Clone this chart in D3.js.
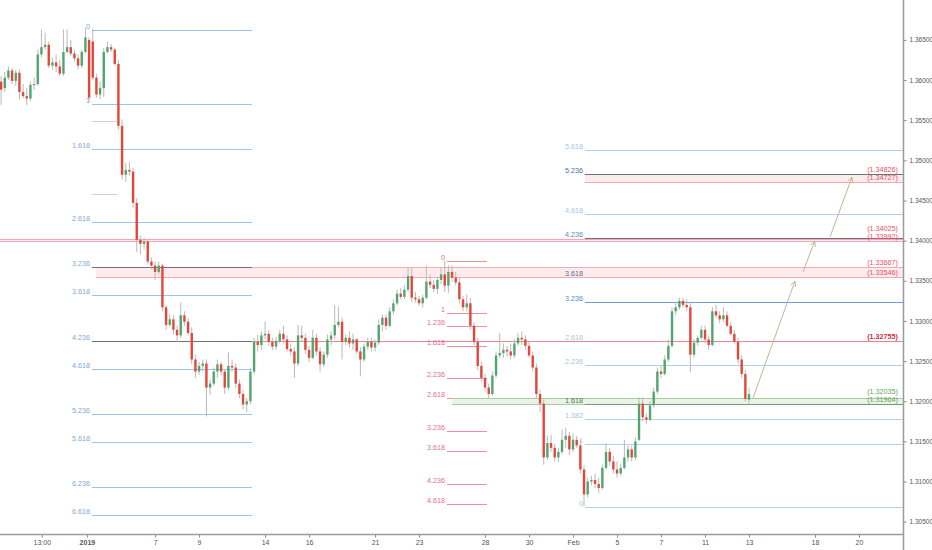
<!DOCTYPE html>
<html lang="en">
<head>
<meta charset="UTF-8" />
<title>GBP 4h fib extensions</title>
<style>
  html, body { margin: 0; padding: 0; background: #fff; }
  svg { display: block; font-family: "Liberation Sans", Arial, sans-serif; }
</style>
</head>
<body>
<svg id="chart" width="932" height="550"></svg>
<script src="https://cdn.jsdelivr.net/npm/d3@7/dist/d3.min.js"></script>
<script>
// 4h candles, day 0 = Mon 7 Jan 2019, weekends removed
const firstBarDay = -7.0;
const barsPerDay = 6;

// [open, high, low, close]
const candles = [
  [1.3598,1.3605,1.3569,1.3588],[1.3590,1.3610,1.3585,1.3603],[1.3603,1.3617,1.3600,1.3612],[1.3612,1.3615,1.3595,1.3599],
  [1.3599,1.3613,1.3593,1.3609],[1.3609,1.3613,1.3576,1.3585],[1.3585,1.3595,1.3577,1.3580],[1.3580,1.3590,1.3569,1.3577],
  [1.3577,1.3598,1.3574,1.3594],[1.3594,1.3603,1.3588,1.3595],[1.3595,1.3638,1.3593,1.3632],[1.3632,1.3663,1.3628,1.3641],
  [1.3641,1.3659,1.3638,1.3644],[1.3644,1.3648,1.3615,1.3618],[1.3618,1.3628,1.3613,1.3622],[1.3622,1.3632,1.3610,1.3617],
  [1.3617,1.3625,1.3605,1.3608],[1.3608,1.3663,1.3605,1.3635],[1.3635,1.3663,1.3633,1.3641],[1.3641,1.3650,1.3630,1.3633],
  [1.3633,1.3638,1.3623,1.3627],[1.3627,1.3632,1.3613,1.3618],[1.3618,1.3638,1.3615,1.3635],[1.3635,1.3665,1.3633,1.3653],
  [1.3650,1.3653,1.3573,1.3578],[1.3648,1.3664,1.3600,1.3603],[1.3603,1.3608,1.3578,1.3582],[1.3582,1.3598,1.3576,1.3590],
  [1.3590,1.3640,1.3579,1.3635],[1.3635,1.3648,1.3633,1.3641],[1.3641,1.3645,1.3635,1.3638],[1.3638,1.3640,1.3618,1.3620],
  [1.3620,1.3625,1.3538,1.3543],[1.3543,1.3551,1.3476,1.3482],[1.3482,1.3497,1.3473,1.3488],[1.3488,1.3498,1.3481,1.3486],
  [1.3486,1.3491,1.3441,1.3447],[1.3447,1.3453,1.3386,1.3401],[1.3401,1.3406,1.3383,1.3396],[1.3396,1.3404,1.3389,1.3399],
  [1.3399,1.3401,1.3370,1.3374],[1.3374,1.3379,1.3364,1.3369],[1.3369,1.3374,1.3351,1.3361],[1.3361,1.3374,1.3358,1.3369],
  [1.3369,1.3371,1.3312,1.3317],[1.3317,1.3320,1.3289,1.3295],[1.3295,1.3308,1.3292,1.3302],[1.3302,1.3307,1.3283,1.3289],
  [1.3289,1.3294,1.3274,1.3282],[1.3282,1.3323,1.3279,1.3307],[1.3307,1.3312,1.3294,1.3299],[1.3299,1.3304,1.3282,1.3285],
  [1.3285,1.3292,1.3246,1.3252],[1.3252,1.3258,1.3229,1.3237],[1.3237,1.3249,1.3233,1.3244],[1.3244,1.3252,1.3237,1.3247],
  [1.3247,1.3252,1.3181,1.3217],[1.3217,1.3227,1.3208,1.3222],[1.3222,1.3242,1.3219,1.3237],[1.3237,1.3252,1.3229,1.3246],
  [1.3246,1.3249,1.3232,1.3237],[1.3237,1.3239,1.3209,1.3217],[1.3217,1.3261,1.3214,1.3244],[1.3244,1.3252,1.3237,1.3242],
  [1.3242,1.3247,1.3217,1.3222],[1.3222,1.3227,1.3204,1.3209],[1.3209,1.3214,1.3190,1.3196],[1.3196,1.3204,1.3186,1.3200],
  [1.3200,1.3242,1.3196,1.3237],[1.3237,1.3279,1.3234,1.3274],[1.3274,1.3283,1.3262,1.3270],[1.3270,1.3287,1.3264,1.3282],
  [1.3282,1.3299,1.3277,1.3284],[1.3284,1.3289,1.3269,1.3274],[1.3274,1.3279,1.3264,1.3268],[1.3268,1.3280,1.3264,1.3275],
  [1.3275,1.3289,1.3272,1.3284],[1.3284,1.3294,1.3272,1.3277],[1.3277,1.3282,1.3262,1.3265],[1.3265,1.3272,1.3257,1.3262],
  [1.3262,1.3267,1.3229,1.3247],[1.3247,1.3295,1.3244,1.3282],[1.3282,1.3294,1.3274,1.3279],[1.3279,1.3284,1.3259,1.3264],
  [1.3264,1.3269,1.3249,1.3254],[1.3254,1.3289,1.3252,1.3279],[1.3279,1.3284,1.3257,1.3262],[1.3262,1.3267,1.3237,1.3246],
  [1.3246,1.3262,1.3243,1.3258],[1.3258,1.3283,1.3254,1.3277],[1.3277,1.3287,1.3270,1.3282],[1.3282,1.3320,1.3277,1.3295],
  [1.3295,1.3318,1.3292,1.3299],[1.3299,1.3304,1.3252,1.3274],[1.3274,1.3283,1.3270,1.3279],[1.3279,1.3287,1.3267,1.3272],
  [1.3272,1.3284,1.3264,1.3277],[1.3277,1.3279,1.3259,1.3262],[1.3262,1.3267,1.3231,1.3252],[1.3252,1.3272,1.3249,1.3268],
  [1.3268,1.3279,1.3264,1.3274],[1.3274,1.3279,1.3262,1.3267],[1.3267,1.3277,1.3262,1.3273],[1.3273,1.3302,1.3270,1.3295],
  [1.3295,1.3308,1.3287,1.3304],[1.3304,1.3308,1.3289,1.3294],[1.3294,1.3317,1.3292,1.3312],[1.3312,1.3327,1.3308,1.3322],
  [1.3322,1.3339,1.3319,1.3334],[1.3334,1.3341,1.3327,1.3330],[1.3330,1.3345,1.3327,1.3339],[1.3339,1.3366,1.3336,1.3356],
  [1.3356,1.3366,1.3324,1.3329],[1.3329,1.3336,1.3323,1.3327],[1.3327,1.3331,1.3319,1.3322],[1.3322,1.3333,1.3317,1.3329],
  [1.3329,1.3369,1.3327,1.3349],[1.3349,1.3358,1.3341,1.3345],[1.3345,1.3351,1.3336,1.3340],[1.3340,1.3355,1.3334,1.3351],
  [1.3351,1.3366,1.3346,1.3358],[1.3358,1.3375,1.3336,1.3344],[1.3344,1.3369,1.3335,1.3361],[1.3361,1.3369,1.3349,1.3354],
  [1.3354,1.3361,1.3344,1.3348],[1.3348,1.3354,1.3322,1.3327],[1.3327,1.3331,1.3312,1.3317],[1.3317,1.3333,1.3312,1.3322],
  [1.3322,1.3329,1.3289,1.3294],[1.3294,1.3299,1.3270,1.3274],[1.3274,1.3279,1.3239,1.3244],[1.3244,1.3249,1.3224,1.3229],
  [1.3229,1.3234,1.3212,1.3217],[1.3217,1.3222,1.3204,1.3209],[1.3209,1.3237,1.3207,1.3232],[1.3232,1.3262,1.3229,1.3257],
  [1.3257,1.3285,1.3254,1.3260],[1.3260,1.3272,1.3254,1.3264],[1.3264,1.3269,1.3255,1.3262],[1.3262,1.3272,1.3252,1.3257],
  [1.3257,1.3277,1.3254,1.3272],[1.3272,1.3285,1.3269,1.3279],[1.3279,1.3287,1.3270,1.3277],[1.3277,1.3282,1.3264,1.3269],
  [1.3269,1.3274,1.3254,1.3257],[1.3257,1.3262,1.3237,1.3242],[1.3242,1.3247,1.3204,1.3209],[1.3209,1.3214,1.3187,1.3197],
  [1.3197,1.3202,1.3121,1.3130],[1.3130,1.3157,1.3127,1.3148],[1.3148,1.3158,1.3137,1.3142],[1.3142,1.3147,1.3125,1.3130],
  [1.3130,1.3142,1.3124,1.3137],[1.3137,1.3165,1.3134,1.3152],[1.3152,1.3167,1.3142,1.3157],[1.3157,1.3162,1.3133,1.3140],
  [1.3140,1.3160,1.3137,1.3152],[1.3152,1.3157,1.3142,1.3145],[1.3145,1.3152,1.3110,1.3115],[1.3115,1.3120,1.3069,1.3084],
  [1.3084,1.3105,1.3080,1.3100],[1.3100,1.3107,1.3095,1.3102],[1.3102,1.3110,1.3092,1.3097],[1.3097,1.3105,1.3086,1.3092],
  [1.3092,1.3121,1.3090,1.3117],[1.3117,1.3148,1.3115,1.3137],[1.3137,1.3142,1.3120,1.3125],[1.3125,1.3132,1.3110,1.3115],
  [1.3115,1.3125,1.3105,1.3110],[1.3110,1.3122,1.3107,1.3117],[1.3117,1.3152,1.3115,1.3130],[1.3130,1.3145,1.3125,1.3140],
  [1.3140,1.3145,1.3125,1.3130],[1.3130,1.3155,1.3127,1.3150],[1.3152,1.3205,1.3150,1.3197],[1.3197,1.3205,1.3175,1.3180],
  [1.3180,1.3185,1.3172,1.3177],[1.3177,1.3200,1.3175,1.3195],[1.3195,1.3217,1.3192,1.3212],[1.3212,1.3242,1.3209,1.3237],
  [1.3237,1.3244,1.3229,1.3234],[1.3234,1.3257,1.3232,1.3252],[1.3252,1.3277,1.3249,1.3269],[1.3269,1.3317,1.3267,1.3312],
  [1.3312,1.3322,1.3307,1.3317],[1.3317,1.3329,1.3314,1.3325],[1.3325,1.3329,1.3317,1.3320],[1.3320,1.3327,1.3312,1.3317],
  [1.3317,1.3324,1.3236,1.3258],[1.3258,1.3277,1.3254,1.3273],[1.3273,1.3282,1.3269,1.3279],[1.3279,1.3294,1.3277,1.3289],
  [1.3289,1.3294,1.3272,1.3277],[1.3277,1.3282,1.3264,1.3270],[1.3270,1.3317,1.3268,1.3312],[1.3312,1.3320,1.3304,1.3307],
  [1.3307,1.3312,1.3297,1.3302],[1.3302,1.3317,1.3299,1.3307],[1.3307,1.3312,1.3292,1.3294],[1.3294,1.3299,1.3282,1.3284],
  [1.3284,1.3289,1.3272,1.3274],[1.3274,1.3279,1.3247,1.3252],[1.3252,1.3257,1.3229,1.3234],[1.3234,1.3239,1.3200,1.3203],
  [1.3202,1.3217,1.3197,1.3209]
];

const priceTicks = [1.305, 1.31, 1.315, 1.32, 1.325, 1.33, 1.335, 1.34, 1.345, 1.35, 1.355, 1.36, 1.365];
const dayTicks = [-5.15, -3.1, 0, 2, 5, 7, 10, 12, 15, 17, 19, 21, 23, 25, 27, 30, 32];
const dayTickLabels = ["13:00", "2019", "7", "9", "14", "16", "21", "23", "28", "30", "Feb", "5", "7", "11", "13", "18", "20"];

// fib extension tools: price at level 0 and level 1, ratios, day span
const fibAAnchors = [1.36618, 1.35706];
const fibARatios = [0, 1, 1.618, 2.618, 3.236, 3.618, 4.236, 4.618, 5.236, 5.618, 6.236, 6.618];
const fibASpan = [-2.87, 4.4];
const fibAShortRatios = [1.236, 2.236];
const fibAShortSpan = [-2.87, -1.7];

const fibBAnchors = [1.3375, 1.33095];
const fibBRatios = [0, 1, 1.236, 1.618, 2.236, 2.618, 3.236, 3.618, 4.236, 4.618];
const fibBSpan = [13.27, 15.09];

const fibCAnchors = [1.30679, 1.31471];
const fibCRatios = [0, 1, 1.382, 1.618, 2.236, 2.618, 3.236, 3.618, 4.236, 4.618, 5.236, 5.618];
const fibCSpan = [19.54, 34];

// price zones [top, bottom] and the day they start
const pinkZones = [[1.34826, 1.34727], [1.34025, 1.33992], [1.33667, 1.33546]];
const pinkZoneStart = [19.54, -7.05, -2.69];
const greenZone = [1.32035, 1.31964];
const greenZoneStart = 13.5;
const keyLevel = 1.32755;
const keyLevelStart = -2.5;

// projected path
const arrowSegments = [
  [[27.18, 1.3204], [29.09, 1.33497]],
  [[29.45, 1.33609], [29.99, 1.33995]],
  [[30.68, 1.34044], [31.68, 1.34791]]
];

const svg = d3.select("#chart");
const plotRight = 903, plotBottom = 534;

const x = d3.scaleLinear().domain([-7.05, 34]).range([0, plotRight]);
const y = d3.scaleLinear().domain([1.305, 1.365]).range([521.7, 39.9]);

svg.append("defs").append("clipPath").attr("id", "plot")
  .append("rect").attr("width", plotRight).attr("height", plotBottom);

svg.select("defs").append("marker")
  .attr("id", "arrow").attr("viewBox", "0 0 8 8").attr("refX", 7).attr("refY", 4)
  .attr("markerWidth", 7).attr("markerHeight", 7).attr("orient", "auto")
  .append("path").attr("d", "M1,1 L7,4 L1,7").attr("fill", "none")
  .attr("stroke", "#c2b597").attr("stroke-width", 1);

const plot = svg.append("g").attr("clip-path", "url(#plot)");

const dark = "#6f727b";

// zone fills
pinkZones.forEach((z, i) => {
  plot.append("rect")
    .attr("x", x(pinkZoneStart[i])).attr("width", plotRight - x(pinkZoneStart[i]))
    .attr("y", y(z[0])).attr("height", y(z[1]) - y(z[0]))
    .attr("fill", "#fdebee");
});
plot.append("rect")
  .attr("x", x(greenZoneStart)).attr("width", plotRight - x(greenZoneStart))
  .attr("y", y(greenZone[0])).attr("height", y(greenZone[1]) - y(greenZone[0]))
  .attr("fill", "#eaf3e6");

function hline(price, d0, d1, color, w) {
  plot.append("line")
    .attr("x1", x(d0)).attr("x2", x(d1))
    .attr("y1", Math.round(y(price)) + 0.5).attr("y2", Math.round(y(price)) + 0.5)
    .attr("stroke", color).attr("stroke-width", w || 1);
}

function fibPrice(anchors, r) {
  return anchors[0] + (anchors[1] - anchors[0]) * r;
}

// fib A (left, blue)
fibAShortRatios.forEach(r => hline(fibPrice(fibAAnchors, r), fibAShortSpan[0], fibAShortSpan[1], "#cfd2d8"));
fibARatios.forEach(r => {
  const c = (r === 3.236 || r === 4.236) ? dark : "#9ec2e8";
  hline(fibPrice(fibAAnchors, r), fibASpan[0], fibASpan[1], c);
});

// fib B (middle, pink)
fibBRatios.forEach(r => hline(fibPrice(fibBAnchors, r), fibBSpan[0], fibBSpan[1], "#ee8e9c"));

// fib C (right, blue)
const fibCLine = { 5.236: dark, 4.236: dark, 3.618: dark, 3.236: "#6d9edb", 1.618: "#6f9d7b" };
fibCRatios.forEach(r => {
  hline(fibPrice(fibCAnchors, r), fibCSpan[0], fibCSpan[1], fibCLine[r] || "#b3cfe9");
});

// zone edge lines
pinkZones.forEach((z, i) => {
  z.forEach(p => hline(p, pinkZoneStart[i], 34, "#f4a9b3"));
});
hline(pinkZones[0][0], pinkZoneStart[0], 34, dark);
hline(keyLevel, keyLevelStart, 34, "#e68593");
hline(fibPrice(fibAAnchors, 4.236), fibASpan[0], fibASpan[1], dark);
hline(fibPrice(fibAAnchors, 3.236), fibASpan[0], fibASpan[1], dark);
greenZone.forEach(p => hline(p, greenZoneStart, 34, "#a9cba0"));
hline(greenZone[1], fibCSpan[0], 34, "#6f9d7b");

// candles
const bw = 2.4;
const candle = plot.append("g").selectAll("g").data(candles).join("g")
  .attr("transform", (d, i) => `translate(${x(firstBarDay + i / barsPerDay)},0)`);
candle.append("line")
  .attr("y1", d => y(d[1])).attr("y2", d => y(d[2]))
  .attr("stroke", "#b9b9b9").attr("stroke-width", 1);
candle.append("rect")
  .attr("x", -bw / 2).attr("width", bw)
  .attr("y", d => y(Math.max(d[0], d[3])))
  .attr("height", d => Math.max(1, Math.abs(y(d[0]) - y(d[3]))))
  .attr("fill", d => d[3] >= d[0] ? "#53a56f" : "#e3473a");

// fib labels
const lab = svg.append("g").attr("font-size", 7.2).attr("text-anchor", "end");
function fibLabels(anchors, ratios, d0, color) {
  ratios.forEach(r => {
    lab.append("text")
      .attr("x", x(d0) - 2).attr("y", y(fibPrice(anchors, r)) - 1)
      .attr("fill", typeof color === "function" ? color(r) : color)
      .text(String(r));
  });
}
fibLabels(fibAAnchors, fibARatios, fibASpan[0], "#7ea8da");
fibLabels(fibBAnchors, fibBRatios, fibBSpan[0], "#e46f86");
const fibCText = { 5.236: "#4b6fa9", 4.236: "#5a86c9", 3.618: "#566b92", 3.236: "#4f88d3", 1.618: "#4c7858" };
fibLabels(fibCAnchors, fibCRatios, fibCSpan[0], r => fibCText[r] || "#a9c4e6");

// price labels on the right; a label sitting too close to the one below is lifted
const rightLabels = [];
pinkZones.forEach(z => z.forEach(p => rightLabels.push([p, "#e8505f", "normal"])));
rightLabels.push([keyLevel, "#cf2f45", "bold"]);
greenZone.forEach(p => rightLabels.push([p, "#6aa35c", "normal"]));
rightLabels.sort((a, b) => a[0] - b[0]);
let lastY = Infinity;
rightLabels.forEach(([p, c, fw]) => {
  const ly = Math.min(y(p) - 2, lastY - 8);
  lastY = ly;
  lab.append("text")
    .attr("x", 898).attr("y", ly)
    .attr("fill", c).attr("font-weight", fw)
    .text("(" + d3.format(".5f")(p) + ")");
});

// arrows
arrowSegments.forEach(s => {
  svg.append("line")
    .attr("x1", x(s[0][0])).attr("y1", y(s[0][1]))
    .attr("x2", x(s[1][0])).attr("y2", y(s[1][1]))
    .attr("stroke", "#c2b597").attr("stroke-width", 1)
    .attr("marker-end", "url(#arrow)");
});

// axes
const yAxis = d3.axisRight(y).tickValues(priceTicks).tickFormat(d3.format(".5f")).tickSize(3).tickPadding(3);
svg.append("g").attr("transform", `translate(${plotRight + 0.5},0)`).call(yAxis)
  .call(g => g.select(".domain").remove())
  .call(g => g.attr("font-family", null).attr("font-size", 6.5))
  .call(g => g.selectAll("line").attr("stroke", "#888"))
  .call(g => g.selectAll("text").attr("fill", "#555"));

const xAxis = d3.axisBottom(x).tickValues(dayTicks).tickFormat((d, i) => dayTickLabels[i]).tickSize(3).tickPadding(3);
svg.append("g").attr("transform", `translate(0,${plotBottom + 0.5})`).call(xAxis)
  .call(g => g.select(".domain").remove())
  .call(g => g.attr("font-family", null).attr("font-size", 7))
  .call(g => g.selectAll("line").attr("stroke", "#888"))
  .call(g => g.selectAll("text").attr("fill", "#555")
    .attr("font-weight", (d, i) => dayTickLabels[i] === "2019" ? "bold" : "normal"));

svg.append("line").attr("x1", plotRight + 0.5).attr("x2", plotRight + 0.5)
  .attr("y1", 0).attr("y2", 550).attr("stroke", "#9b9b9b").attr("stroke-width", 1.5);
svg.append("line").attr("x1", 0).attr("x2", plotRight + 0.5)
  .attr("y1", plotBottom + 0.5).attr("y2", plotBottom + 0.5).attr("stroke", "#9b9b9b").attr("stroke-width", 1.5);
</script>
</body>
</html>
